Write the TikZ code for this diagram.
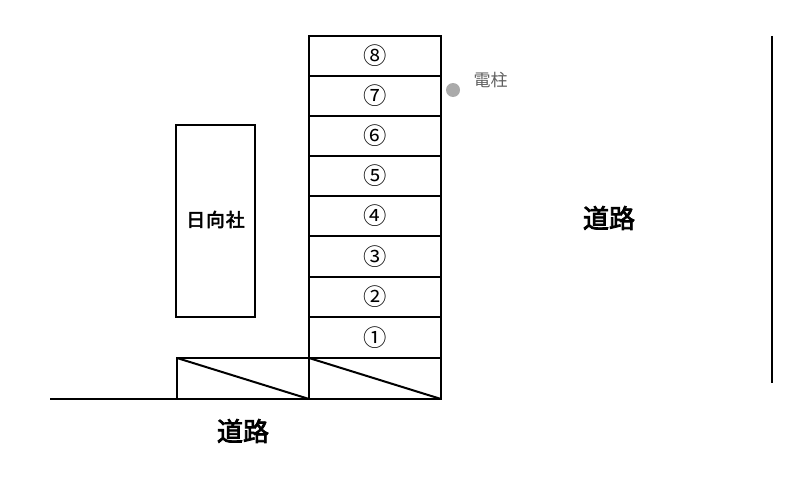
\documentclass[tikz,border=0pt]{standalone}
\usepackage{fontspec}
\usepackage{xcolor}
\newfontfamily\jpfont{Noto Sans CJK JP}
\newfontfamily\jpheavy[FakeBold=3]{Noto Sans CJK JP}

\begin{document}
\begin{tikzpicture}[x=0.75pt,y=-0.75pt]

\definecolor{polegray}{RGB}{170, 170, 170}
\definecolor{polelabel}{RGB}{95, 95, 95}

\useasboundingbox (0,0) rectangle (788,485);

\tikzset{
    slot/.style={
        draw=black, line width=1.5pt, rectangle, outer sep=0pt, inner sep=0pt,
        minimum width=99pt, minimum height=#1,
        font=\jpfont\fontsize{17.5}{17.5}\selectfont
    },
    slot/.default=30pt,
    roadline/.style={
        draw=black, line width=1.5pt
    },
    roadlabel/.style={
        font=\jpheavy\fontsize{19.5}{19.5}\selectfont
    }
}

% PARKING SLOTS
\node[slot] (S8) at (375, 56) {⑧};
\node[slot] (S7) at (375, 96) {⑦};
\node[slot] (S6) at (375, 136) {⑥};
\node[slot] (S5) at (375, 176) {⑤};
\node[slot] (S4) at (375, 216) {④};
\node[slot=30.75pt] (S3) at (375, 256.5) {③};
\node[slot] (S2) at (375, 297) {②};
\node[slot=30.75pt] (S1) at (375, 337.5) {①};

% ENTRANCE SLOPES
\node[slot=30.75pt] (G2) at (375, 378.5) {};
\node[slot=30.75pt] (G1) at (243, 378.5) {};
\draw[roadline] (G1.north west) -- (G1.south east);
\draw[roadline] (G2.north west) -- (G2.south east);

% SHRINE
\node[slot=144pt, minimum width=59.25pt] (shrine) at (215.5, 221) {};
\node[font=\jpheavy\fontsize{14}{14}\selectfont] (shrinelabel) at (215.5, 219.5) {日\hspace{0.8pt}向\hspace{0.8pt}社};

% POLE
\node[circle, fill=polegray, minimum size=10.5pt, inner sep=0pt] (pole) at (453, 90) {};
\node[text=polelabel, font=\jpfont\fontsize{12.75}{12.75}\selectfont] (polelabel) at (490.5, 80) {電柱};

% ROADS
\coordinate (roadwest) at (50, 399);
\coordinate (roadtop) at (772, 36);
\coordinate (roadbottom) at (772, 383);
\draw[roadline] (roadwest) -- (G1.south west);
\draw[roadline] (roadtop) -- (roadbottom);
\node[roadlabel] (roadsouth) at (243, 431) {道路};
\node[roadlabel] (roadeast) at (609, 218) {道路};

\end{tikzpicture}
\end{document}
